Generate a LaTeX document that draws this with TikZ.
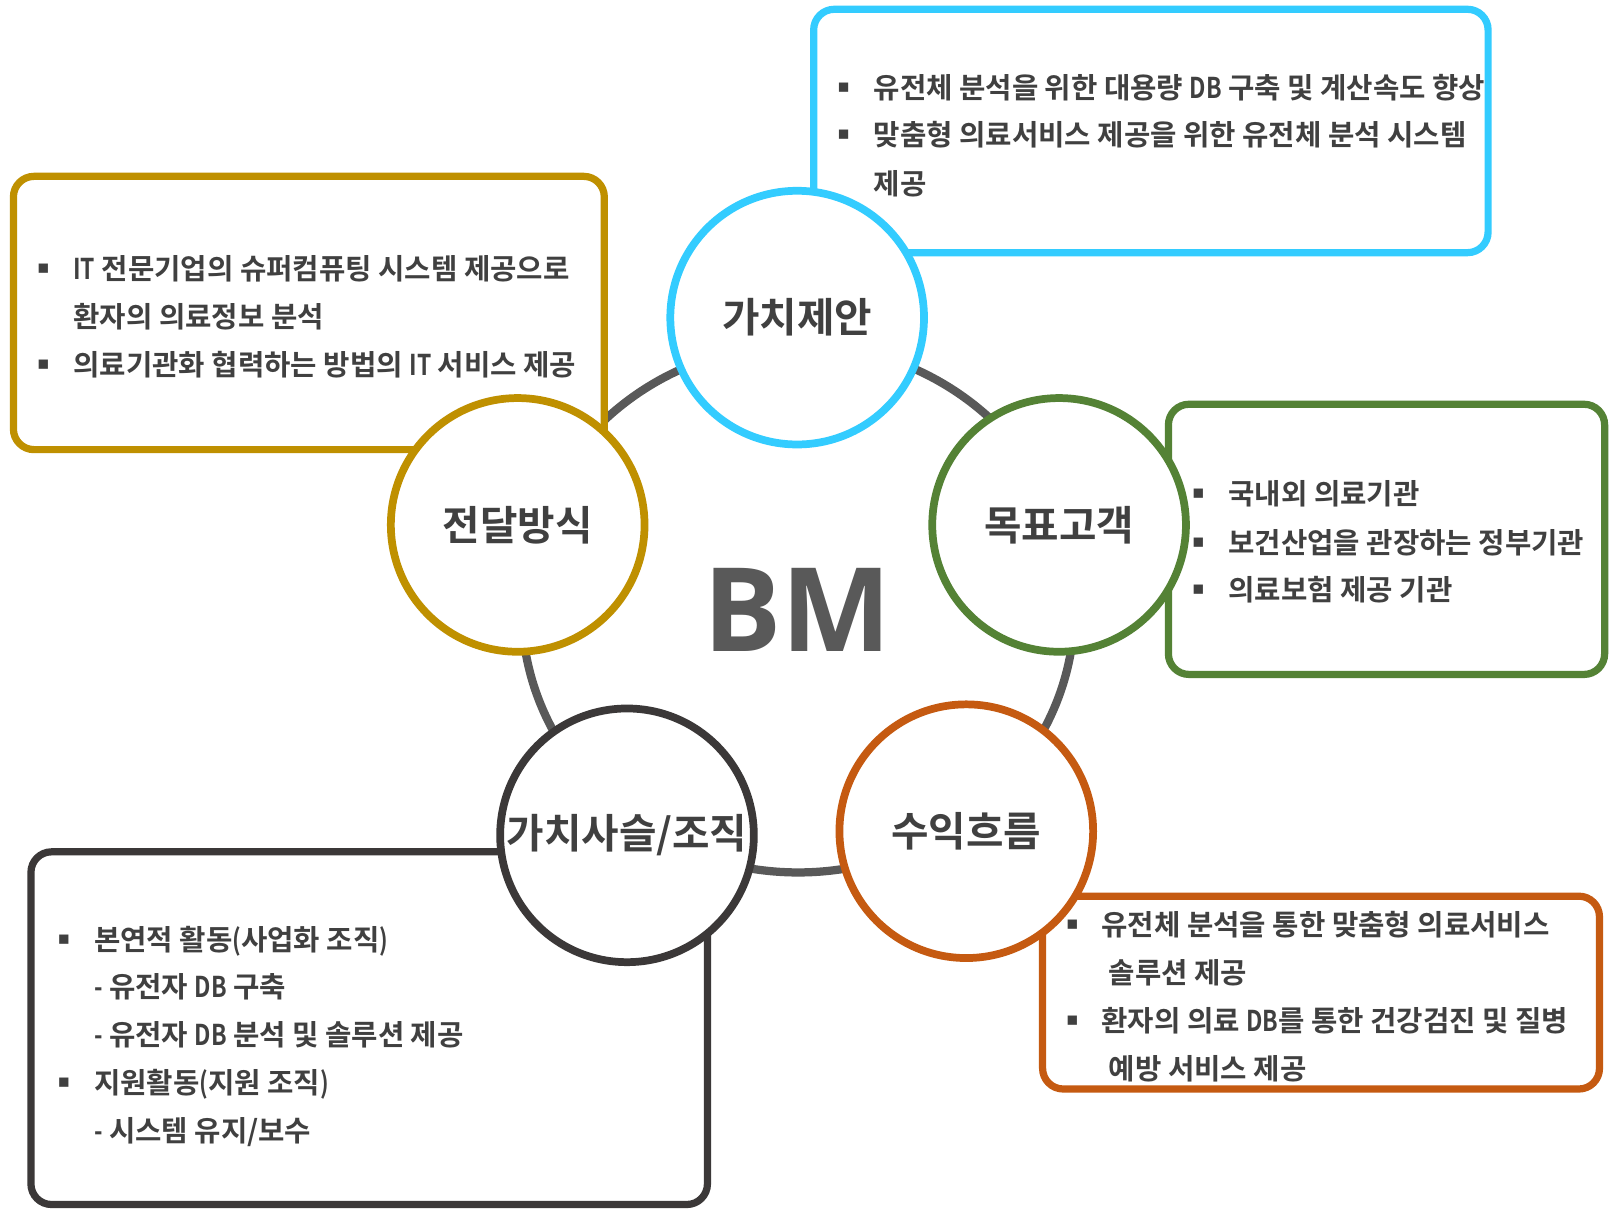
\documentclass[tikz,border=0pt]{standalone}
\usepackage{fontspec}
\setmainfont{Noto Sans CJK KR}[BoldFont=* Bold]
\newfontfamily\bmfont{Open Sans}[BoldFont=* Bold]
\newfontfamily\bulletfont{DejaVu Sans}
\newcommand\narrowlat[1]{{\addfontfeatures{FakeStretch=0.8}#1}}
\definecolor{cblue}{HTML}{33CCFF}
\definecolor{cgold}{HTML}{BF9000}
\definecolor{cgreen}{HTML}{548235}
\definecolor{cdark}{HTML}{3B3838}
\definecolor{corange}{HTML}{C55A11}
\definecolor{cring}{HTML}{595959}
\definecolor{ctext}{HTML}{404040}
\begin{document}
\begin{tikzpicture}[x=1pt,y=-1pt,
  ringline/.style={draw=cring, line width=8pt},
  panel/.style={rectangle, draw, line width=7pt, rounded corners=20pt, fill=white, inner sep=0pt},
  topic/.style={circle, draw, line width=7.5pt, fill=white, minimum size=246pt, inner sep=0pt,
    font=\fontsize{39.5}{44}\selectfont\bfseries, text=ctext},
  txt/.style={anchor=west, inner sep=0pt, text height=23pt, text depth=2pt,
    font=\fontsize{27.8}{32}\selectfont\bfseries, text=ctext},
  bul/.style={inner sep=0pt, font=\bulletfont\fontsize{18}{20}\selectfont, text=ctext}]
\useasboundingbox (0,0) rectangle (1568,1175);
\fill[white] (0,0) rectangle (1568,1175);

% ring
\draw[ringline] (774,590) ellipse [x radius=268pt, y radius=256pt];

% panels
\node[panel, draw=cblue, minimum width=654pt, minimum height=236pt] (pvp) at (1116,127) {};
\node[panel, draw=cgold, minimum width=573pt, minimum height=265pt] (pch) at (299.5,303.5) {};
\node[panel, draw=cgreen, minimum width=423pt, minimum height=262pt] (ptc) at (1344.5,523) {};
\node[panel, draw=cdark, minimum width=656pt, minimum height=342pt] (pvc) at (358,997) {};
\node[panel, draw=corange, minimum width=540pt, minimum height=187pt] (prs) at (1281,962.5) {};

% topic circles
\node[topic, draw=cblue] (vp) at (773,308) {가치제안};
\node[topic, draw=cgreen] (tc) at (1027,509) {목표고객};
\node[topic, draw=corange] (rs) at (937,806) {수익흐름};
\node[topic, draw=cdark] (vc) at (608,810) {가치사슬/조직};
\node[topic, draw=cgold] (ch) at (502,509) {전달방식};

% centre
\node[inner sep=0pt, text=cring, font=\bmfont\bfseries\fontsize{113}{115}\selectfont] (bm) at (773,591.5) {BM};

% blue panel text
\node[bul] (b1a) at (818,85) {▪};
\node[txt] (t1a) at (847,85) {유전체 분석을 위한 대용량 \narrowlat{DB} 구축 및 계산속도 향상};
\node[bul] (b1b) at (818,131) {▪};
\node[txt] (t1b) at (847,131) {맞춤형 의료서비스 제공을 위한 유전체 분석 시스템};
\node[txt] (t1c) at (847,178) {제공};

% gold panel text
\node[bul] (b2a) at (42,261) {▪};
\node[txt] (t2a) at (71,261) {\narrowlat{IT} 전문기업의 슈퍼컴퓨팅 시스템 제공으로};
\node[txt] (t2b) at (71,307) {환자의 의료정보 분석};
\node[bul] (b2c) at (42,354) {▪};
\node[txt] (t2c) at (71,354) {의료기관화 협력하는 방법의 \narrowlat{IT} 서비스 제공};

% green panel text
\node[bul] (b3a) at (1162,479) {▪};
\node[txt] (t3a) at (1191,479) {국내외 의료기관};
\node[bul] (b3b) at (1162,526) {▪};
\node[txt] (t3b) at (1191,526) {보건산업을 관장하는 정부기관};
\node[bul] (b3c) at (1162,572) {▪};
\node[txt] (t3c) at (1191,572) {의료보험 제공 기관};

% orange panel text
\node[bul] (b4a) at (1040,897) {▪};
\node[txt] (t4a) at (1068,897) {유전체 분석을 통한 맞춤형 의료서비스};
\node[txt] (t4b) at (1075,943) {솔루션 제공};
\node[bul] (b4c) at (1040,990) {▪};
\node[txt] (t4c) at (1068,990) {환자의 의료 \narrowlat{DB}를 통한 건강검진 및 질병};
\node[txt] (t4d) at (1075,1036) {예방 서비스 제공};

% dark panel text
\node[bul] (b5a) at (62,911) {▪};
\node[txt] (t5a) at (91,911) {본연적 활동\narrowlat{(}사업화 조직\narrowlat{)}};
\node[txt] (t5b) at (91,957) {\narrowlat{-} 유전자 \narrowlat{DB} 구축};
\node[txt] (t5c) at (91,1003) {\narrowlat{-} 유전자 \narrowlat{DB} 분석 및 솔루션 제공};
\node[bul] (b5d) at (62,1050) {▪};
\node[txt] (t5d) at (91,1050) {지원활동\narrowlat{(}지원 조직\narrowlat{)}};
\node[txt] (t5e) at (91,1096) {\narrowlat{-} 시스템 유지/보수};
\end{tikzpicture}
\end{document}
